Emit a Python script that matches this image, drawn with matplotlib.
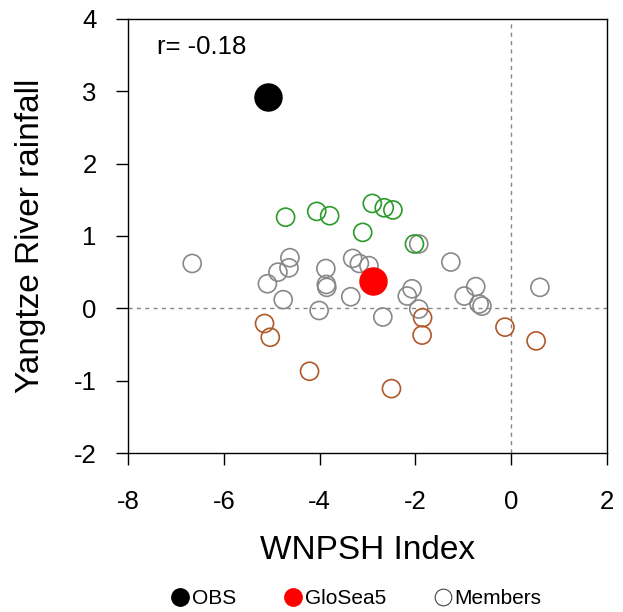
import matplotlib
matplotlib.use("Agg")
import matplotlib.pyplot as plt
from matplotlib.lines import Line2D

plt.rcParams['font.family'] = ['Liberation Sans', 'DejaVu Sans']
plt.rcParams['axes.unicode_minus'] = False

# ensemble members, grouped by rainfall category
grey_x = [-6.66, -4.62, -4.64, -4.87, -5.09, -4.76, -3.87, -3.86, -3.85, -4.01,
          -3.35, -3.31, -3.17, -2.97, -1.93, -2.68, -2.07, -2.17, -1.93, -1.26,
          -0.74, -0.98, -0.67, -0.61, 0.60]
grey_y = [0.62, 0.70, 0.56, 0.50, 0.34, 0.12, 0.55, 0.33, 0.29, -0.03,
          0.16, 0.69, 0.62, 0.59, 0.89, -0.12, 0.27, 0.17, -0.01, 0.64,
          0.30, 0.17, 0.06, 0.03, 0.29]
green_x = [-4.71, -4.06, -3.79, -3.10, -2.90, -2.65, -2.47, -2.02]
green_y = [1.26, 1.34, 1.28, 1.05, 1.45, 1.39, 1.36, 0.89]
brown_x = [-5.15, -5.03, -4.21, -1.85, -1.86, -0.13, 0.52, -2.50]
brown_y = [-0.21, -0.40, -0.87, -0.13, -0.37, -0.26, -0.45, -1.11]

obs_x, obs_y = -5.08, 2.92
glosea_x, glosea_y = -2.89, 0.38
r_value = -0.18

fig = plt.figure(figsize=(6.23, 6.12), dpi=100)
ax = fig.add_axes([0.2055, 0.2598, 0.7688, 0.7092])

ax.axhline(0, color='#888888', ls=(0, (3, 3)), lw=1.0, zorder=1)
ax.axvline(0, color='#888888', ls=(0, (3, 3)), lw=1.0, zorder=1)

ax.scatter(grey_x, grey_y, s=169, facecolors='none', edgecolors='#888888', linewidths=1.2, zorder=2)
ax.scatter(green_x, green_y, s=169, facecolors='none', edgecolors='#2a9a2a', linewidths=1.2, zorder=2)
ax.scatter(brown_x, brown_y, s=169, facecolors='none', edgecolors='#b0582a', linewidths=1.2, zorder=2)
ax.scatter([glosea_x], [glosea_y], s=380, color='red', zorder=3)
ax.scatter([obs_x], [obs_y], s=380, color='black', zorder=3)

ax.set_xlim(-8, 2)
ax.set_ylim(-2, 4)
ax.set_xticks([-8, -6, -4, -2, 0, 2])
ax.set_yticks([-2, -1, 0, 1, 2, 3, 4])
ax.tick_params(direction='out', length=8.5, width=1, labelsize=18.5)
ax.tick_params(axis='x', pad=18)
ax.tick_params(axis='y', pad=14)
for sp in ax.spines.values():
    sp.set_linewidth(1)

ax.set_xlabel('WNPSH Index', fontsize=24, labelpad=15)
ax.set_ylabel('Yangtze River rainfall', fontsize=24, labelpad=20)
ax.text(0.06, 0.935, f'r= {r_value:.2f}', transform=ax.transAxes, fontsize=18.5, va='center')

handles = [
    Line2D([], [], ls='none', marker='o', ms=12.5, color='black', label='OBS'),
    Line2D([], [], ls='none', marker='o', ms=12.5, color='red', label='GloSea5'),
    Line2D([], [], ls='none', marker='o', ms=12, mfc='none', mec='#444444', mew=0.8, label='Members'),
]
fig.legend(handles=handles, loc='center', bbox_to_anchor=(0.571, 0.022), ncol=3, frameon=False,
           fontsize=15, handletextpad=0.05, columnspacing=2.25, handlelength=1.0)

fig.savefig('out.png', dpi=100)
